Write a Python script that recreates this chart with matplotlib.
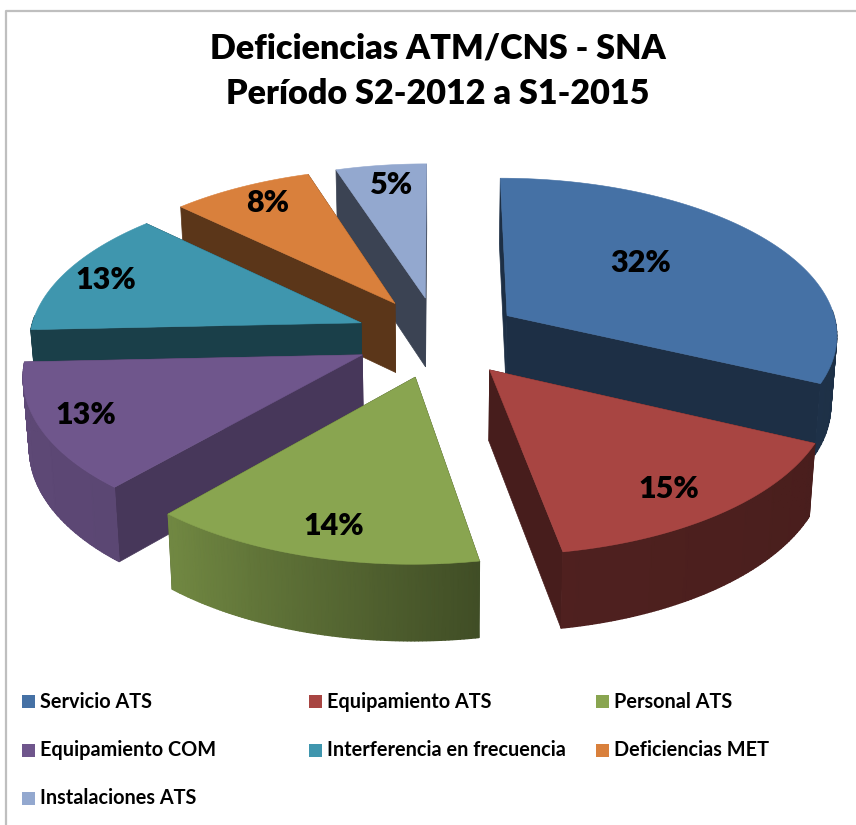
import numpy as np
import matplotlib
matplotlib.use("Agg")
import matplotlib.pyplot as plt
from matplotlib.colors import LinearSegmentedColormap
from matplotlib.patches import Polygon, Rectangle
from matplotlib.lines import Line2D

# ---- data ----
categories = ["Servicio ATS", "Equipamiento ATS", "Personal ATS", "Equipamiento COM",
              "Interferencia en frecuencia", "Deficiencias MET", "Instalaciones ATS"]
shares = [32.0, 15.2, 14.2, 12.9, 12.9, 7.8, 5.0]
title_lines = ["Deficiencias ATM/CNS - SNA", "Período S2-2012 a S1-2015"]

# ---- style ----
top_colors = ["#4571a5", "#a84542", "#89a550", "#6f568c", "#3f96ae", "#d9803c", "#93a8cf"]
side_shade = [0.42, 0.42, 0.42, 0.64, 0.42, 0.42, 0.40]
wall_scale = [1, 1, 1, 1, 0.5, 1, 1]
draw_order = [6, 5, 4, 3, 0, 1, 2]
label_frac = [0.56, 0.82, 0.84, 0.86, 0.86, 0.84, 0.84]
label_turn = [7, -2, 1, -1, 1, -1, -1]

CX, CY, RX, RY, PERSP, DEPTH = 438, 337, 332, 157, 0.11, 70
EXPLODE_X, EXPLODE_Y = 0.25, 0.258
FONT = "Lato"

def project(X, Y):
    X, Y = np.asarray(X, float), np.asarray(Y, float)
    w = 1 + PERSP * Y
    return CX + RX * X / w, CY - RY * Y / w

def lower(x, y):
    return CX + (x - CX) * 0.985, y + DEPTH + (y - CY) * 0.03

def shade(color, f):
    return tuple(c * f for c in matplotlib.colors.to_rgb(color))

def wall_factor(deg):
    d = ((np.asarray(deg) + 180) % 360) - 180
    return np.interp(d, [-180, -130, -80, 0, 180], [0.85, 0.82, 0.47, 0.42, 0.85])

fig = plt.figure(figsize=(8.56, 8.25), dpi=100, facecolor="white")
ax = fig.add_axes([0, 0, 1, 1])
ax.set_xlim(0, 856)
ax.set_ylim(825, 0)
ax.axis("off")

# chart frame
ax.add_line(Line2D([6.5, 6.5, 856], [825, 10.5, 10.5], color="#bfbfbf", lw=1.6))

# slice angles (clockwise from 12 o'clock)
fr = np.array(shares, float) / np.sum(shares)
edges = 90 - 360 * np.concatenate([[0], np.cumsum(fr)])

label_pos = {}
z = 2
for i in draw_order:
    a0, a1 = edges[i], edges[i + 1]
    mid = np.radians((a0 + a1) / 2)
    ox, oy = EXPLODE_X * np.cos(mid), EXPLODE_Y * np.sin(mid)
    th = np.radians(np.linspace(a0, a1, 90))
    X, Y = ox + np.cos(th), oy + np.sin(th)
    xt, yt = project(X, Y)
    xb, yb = lower(xt, yt)
    ax_, ay_ = project(ox, oy)
    bx_, by_ = lower(ax_, ay_)
    col = top_colors[i]
    side = shade(col, side_shade[i])
    # radial faces
    for e in (0, -1):
        ax.add_patch(Polygon([(ax_, ay_), (xt[e], yt[e]), (xb[e], yb[e]), (bx_, by_)],
                             closed=True, fc=side, ec=side, lw=0.5, zorder=z))
    # outer wall, only where it faces the viewer, shaded smoothly along the rim
    vis = np.sin(th) < 0.05
    if vis.sum() > 1:
        f = wall_factor(np.degrees(th[vis])) * wall_scale[i]
        cmap = LinearSegmentedColormap.from_list("w", ["black", col])
        ax.pcolormesh(np.vstack([xt[vis], xb[vis]]), np.vstack([yt[vis], yb[vis]]),
                      np.vstack([f, f]), cmap=cmap, vmin=0, vmax=1, shading="gouraud",
                      zorder=z + 0.1)
    # top face
    ax.add_patch(Polygon(np.column_stack([np.r_[ax_, xt], np.r_[ay_, yt]]),
                         closed=True, fc=col, ec=col, lw=0.4, zorder=z + 0.2))
    z += 1
    lm = mid + np.radians(label_turn[i])
    label_pos[i] = project(ox + label_frac[i] * np.cos(lm), oy + label_frac[i] * np.sin(lm))

for i, (lx, ly) in label_pos.items():
    ax.text(lx, ly, f"{shares[i]:.0f}%", ha="center", va="center", fontsize=22,
            fontweight="heavy", family=FONT, color="black", zorder=50)

# title
for line, y in zip(title_lines, (48, 94)):
    ax.text(438, y, line, ha="center", va="center", fontsize=24.6, fontweight="heavy",
            family=FONT, color="black", zorder=50)

# legend
col_x = [22, 309, 596]
row_y = [701.5, 750.5, 798.5]
for i, name in enumerate(categories):
    x, y = col_x[i % 3], row_y[i // 3]
    ax.add_patch(Rectangle((x, y - 6.5), 13, 13, fc=top_colors[i], ec="none"))
    ax.text(x + 18.5, y, name, ha="left", va="center", fontsize=14.3, fontweight="bold",
            family=FONT, color="black", zorder=50)

ax.set_xlim(0, 856)
ax.set_ylim(825, 0)
fig.savefig("out.png", dpi=100, facecolor="white")
